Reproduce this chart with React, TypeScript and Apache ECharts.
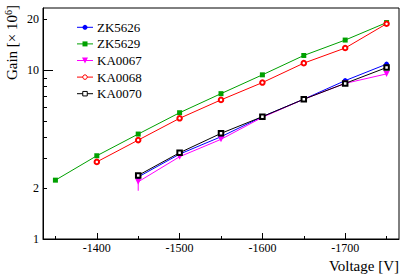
import React, { useEffect, useRef } from 'react';
import * as echarts from 'echarts';

// Data
const voltages = [-1350, -1400, -1450, -1500, -1550, -1600, -1650, -1700, -1750];
const zk5626 = [null, null, 2.33, 3.18, 4.03, 5.3, 6.72, 8.66, 10.84];
const zk5629 = [2.23, 3.11, 4.18, 5.59, 7.25, 9.37, 12.2, 15.05, 19.1];
const ka0067 = [null, null, 2.18, 3.07, 3.89, 5.25, 6.72, 8.34, 9.49];
const ka0068 = [null, 2.86, 3.85, 5.18, 6.66, 8.43, 10.99, 13.5, 18.8];
const ka0070 = [null, null, 2.38, 3.24, 4.22, 5.3, 6.72, 8.34, 10.35];
const ka0067Err = [0, 0, 0.25, 0.05, 0.05, 0.05, 0.05, 0.05, 0.08];
const ka0068Err = [0, 0.05, 0.05, 0.05, 0.05, 0.05, 0.1, 0.1, 0.4];

const seriesNames = ['ZK5626', 'ZK5629', 'KA0067', 'KA0068', 'KA0070'];
const xMajorTicks = [-1400, -1500, -1600, -1700];
const xMinorTicks = [-1350, -1450, -1550, -1650, -1750];
const yMajorTicks = [1, 10];
const yMinorTicks = [2, 3, 4, 5, 6, 7, 8, 9, 20];
const yTickLabels = [1, 2, 10, 20];

const X_MIN = -1765;
const X_MAX = -1335;
const Y_MIN = 1;
const Y_MAX = 23.3;

const FONT = 'Liberation Serif';

const styles = [
  { color: '#0000ff', symbol: 'circle', size: 5 },
  { color: '#00a000', symbol: 'rect', size: 5 },
  { color: '#ff00ff', symbol: 'triangle', size: 6 },
  { color: '#ff0000', symbol: 'emptyCircle', size: 4.5 },
  { color: '#000000', symbol: 'emptyRect', size: 4.5 },
];

function pairs(vals: (number | null)[]) {
  const out: number[][] = [];
  vals.forEach((v, i) => {
    if (v != null) out.push([voltages[i], v]);
  });
  return out;
}

function errData(vals: (number | null)[], errs: number[]) {
  const out: number[][] = [];
  vals.forEach((v, i) => {
    if (v != null && errs[i] > 0) out.push([voltages[i], v - errs[i], v + errs[i]]);
  });
  return out;
}

function legendMarker(st: { color: string; symbol: string; size: number }, cx: number, cy: number) {
  const s = st.size;
  switch (st.symbol) {
    case 'circle':
      return { type: 'circle', shape: { cx, cy, r: s / 2 }, style: { fill: st.color } };
    case 'rect':
      return { type: 'rect', shape: { x: cx - s / 2, y: cy - s / 2, width: s, height: s }, style: { fill: st.color } };
    case 'triangle':
      return {
        type: 'polygon',
        shape: { points: [[cx - s / 2, cy - s / 2], [cx + s / 2, cy - s / 2], [cx, cy + s / 2]] },
        style: { fill: st.color },
      };
    case 'emptyCircle':
      return { type: 'circle', shape: { cx, cy, r: s / 2 }, style: { fill: '#fff', stroke: st.color, lineWidth: 1 } };
    default:
      return {
        type: 'rect',
        shape: { x: cx - s / 2, y: cy - s / 2, width: s, height: s },
        style: { fill: '#fff', stroke: st.color, lineWidth: 1 },
      };
  }
}

export default function App() {
  const ref = useRef<HTMLDivElement>(null);
  useEffect(() => {
    if (!ref.current) return;
    document.body.style.margin = '0';
    const chart = echarts.init(ref.current, null, { renderer: 'svg' });
    const lg = (v: number) => Math.log10(v);

    const mkLine = (idx: number, vals: (number | null)[], extra: any = {}) => {
      const st = styles[idx];
      return {
        name: seriesNames[idx],
        type: 'line',
        xAxisIndex: 0,
        yAxisIndex: 0,
        data: pairs(vals),
        symbol: st.symbol,
        symbolSize: st.size,
        showSymbol: true,
        lineStyle: { color: st.color, width: 1 },
        itemStyle: { color: st.color, borderColor: st.color, borderWidth: st.symbol.startsWith('empty') ? 1 : 0 },
        emphasis: { disabled: true },
        ...extra,
      };
    };

    const mkErr = (vals: (number | null)[], errs: number[], color: string) => ({
      type: 'custom',
      xAxisIndex: 0,
      yAxisIndex: 0,
      data: errData(vals, errs),
      encode: { x: 0, y: [1, 2] },
      silent: true,
      renderItem: (params: any, api: any) => {
        const p1 = api.coord([api.value(0), api.value(1)]);
        const p2 = api.coord([api.value(0), api.value(2)]);
        return {
          type: 'line',
          shape: { x1: p1[0], y1: p1[1], x2: p2[0], y2: p2[1] },
          style: { stroke: color, lineWidth: 1 },
        };
      },
    });

    // legend drawn as a key box (layout only)
    const legendItems: any[] = [];
    const LX = 77, LW = 16, LY0 = 27.3, LDY = 16.6;
    seriesNames.forEach((name, i) => {
      const st = styles[i];
      const cy = LY0 + i * LDY;
      legendItems.push({
        type: 'line',
        shape: { x1: LX, y1: cy, x2: LX + LW, y2: cy },
        style: { stroke: st.color, lineWidth: 1 },
      });
      legendItems.push(legendMarker(st, LX + LW / 2, cy));
      legendItems.push({
        type: 'text',
        x: LX + LW + 4,
        y: cy,
        style: { text: name, fontFamily: FONT, fontSize: 13, fill: '#000', align: 'left', verticalAlign: 'middle' },
      });
    });

    chart.setOption({
      animation: false,
      textStyle: { fontFamily: FONT },
      grid: {
        left: 43,
        top: 8,
        right: 8,
        bottom: 38,
        show: true,
        borderColor: '#000',
        borderWidth: 1,
        backgroundColor: 'transparent',
      },
      legend: { show: false },
      xAxis: [
        {
          type: 'value',
          min: X_MIN,
          max: X_MAX,
          inverse: true,
          position: 'bottom',
          axisLine: { show: true, lineStyle: { color: '#000', width: 1 } },
          axisTick: { show: true, inside: true, length: 6, customValues: xMajorTicks, lineStyle: { color: '#000' } },
          axisLabel: {
            show: true,
            customValues: xMajorTicks,
            formatter: (v: number) => String(v),
            margin: 3,
            fontFamily: FONT,
            fontSize: 12,
            color: '#000',
          },
          splitLine: { show: false },
        },
        {
          type: 'value',
          min: X_MIN,
          max: X_MAX,
          inverse: true,
          position: 'bottom',
          axisLine: { show: false },
          axisTick: { show: true, inside: true, length: 3, customValues: xMinorTicks, lineStyle: { color: '#000' } },
          axisLabel: { show: false },
          splitLine: { show: false },
        },
      ],
      yAxis: [
        {
          type: 'log',
          logBase: 10,
          min: Y_MIN,
          max: Y_MAX,
          position: 'left',
          axisLine: { show: true, lineStyle: { color: '#000', width: 1 } },
          axisTick: { show: false },
          axisLabel: { show: false },
          splitLine: { show: false },
          minorTick: { show: false },
        },
        {
          type: 'value',
          min: lg(Y_MIN),
          max: lg(Y_MAX),
          position: 'left',
          axisLine: { show: false },
          axisTick: { show: true, inside: true, length: 10, customValues: yMajorTicks.map(lg), lineStyle: { color: '#000' } },
          axisLabel: {
            show: true,
            customValues: yTickLabels.map(lg),
            formatter: (v: number) => String(Math.round(Math.pow(10, v))),
            margin: 4,
            fontFamily: FONT,
            fontSize: 12,
            color: '#000',
          },
          splitLine: { show: false },
        },
        {
          type: 'value',
          min: lg(Y_MIN),
          max: lg(Y_MAX),
          position: 'left',
          axisLine: { show: false },
          axisTick: { show: true, inside: true, length: 4, customValues: yMinorTicks.map(lg), lineStyle: { color: '#000' } },
          axisLabel: { show: false },
          splitLine: { show: false },
        },
      ],
      graphic: [
        ...legendItems,
        {
          type: 'text',
          x: 399,
          y: 266,
          style: {
            text: 'Voltage [V]',
            fontFamily: FONT,
            fontSize: 15,
            fill: '#000',
            align: 'right',
            verticalAlign: 'middle',
          },
        },
        {
          type: 'text',
          x: 12,
          y: 5,
          rotation: Math.PI / 2,
          style: {
            text: 'Gain [× 10{sup|6}]',
            fontFamily: FONT,
            fontSize: 15,
            fill: '#000',
            align: 'right',
            verticalAlign: 'middle',
            rich: {
              sup: { fontFamily: FONT, fontSize: 10, fill: '#000', padding: [0, 0, 8, 0] },
            },
          },
        },
      ],
      series: [
        mkErr(ka0067, ka0067Err, styles[2].color),
        mkErr(ka0068, ka0068Err, styles[3].color),
        mkLine(0, zk5626),
        mkLine(1, zk5629),
        mkLine(2, ka0067, { symbolRotate: 180 }),
        mkLine(3, ka0068),
        mkLine(4, ka0070),
      ],
    });
    return () => chart.dispose();
  }, []);
  return <div ref={ref} style={{ width: 407, height: 277 }} />;
}
